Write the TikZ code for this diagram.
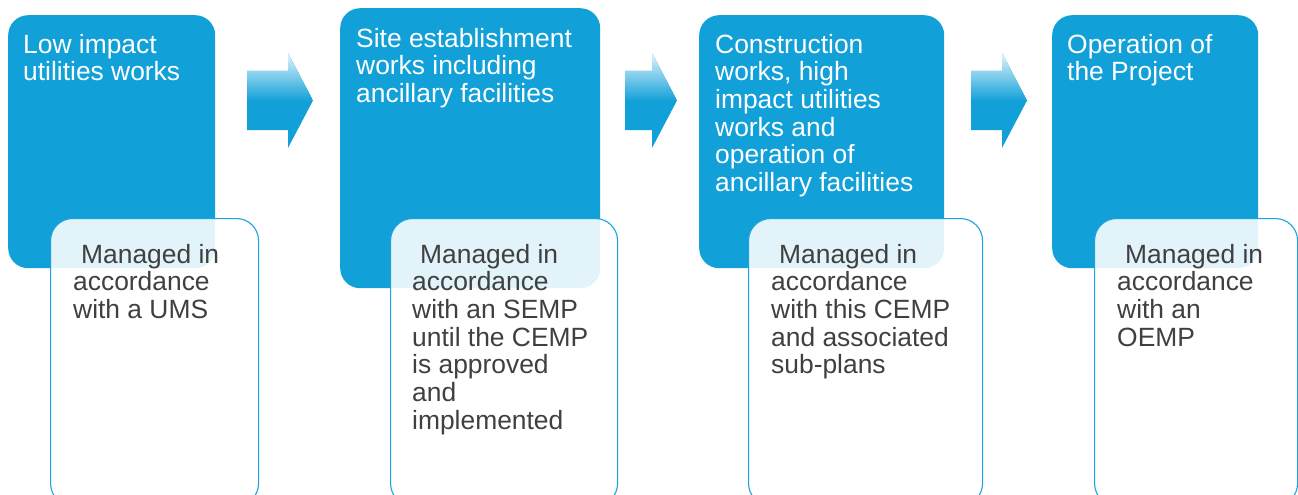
\documentclass[tikz,border=0pt]{standalone}
\usepackage{fontspec}
\setmainfont{Liberation Sans}
\definecolor{boxblue}{RGB}{18,160,216}
\definecolor{edgeblue}{RGB}{30,162,222}
\definecolor{paleblue}{RGB}{225,244,252}
\definecolor{txtgray}{RGB}{64,64,64}
\tikzset{
  stage/.style={rectangle, rounded corners=20pt, fill=boxblue, draw=none, anchor=north west, inner sep=0pt},
  mgmt/.style={rectangle, rounded corners=22pt, fill=white, fill opacity=0.88, draw=edgeblue, line width=1.1pt, anchor=north west, inner sep=0pt},
  title/.style={anchor=base west, align=left, inner sep=0pt, text=white, font=\fontsize{26.4}{27.7}\selectfont},
  note/.style={anchor=base west, align=left, inner sep=0pt, text=txtgray, font=\fontsize{26.4}{27.7}\selectfont},
  arrowtop/.style={top color=paleblue, bottom color=boxblue, draw=none}
}
\begin{document}
\begin{tikzpicture}[x=1pt,y=-1pt]
\useasboundingbox (0,0) rectangle (1298,495);
% stage boxes
\node[stage, minimum width=207pt, minimum height=253pt] (b1) at (8,15) {};
\node[stage, minimum width=260pt, minimum height=280pt] (b2) at (340,8) {};
\node[stage, minimum width=245pt, minimum height=253pt] (b3) at (699,15) {};
\node[stage, minimum width=206pt, minimum height=253pt] (b4) at (1052,15) {};
% block arrows
\foreach \x/\h/\t in {247/288/313, 625/652/677, 971/1002/1027}{
  \begin{scope}
    \clip (\x,71) -- (\h,71) -- (\h,53) -- (\t,100.5) -- (\h,148) -- (\h,130) -- (\x,130) -- cycle;
    \fill[boxblue] (\x,50) rectangle (\t,150);
    \shade[arrowtop] (\x,53) rectangle (\t,101);
  \end{scope}
}
% management boxes
\node[mgmt, minimum width=208pt, minimum height=287pt] (w1) at (50,218) {};
\node[mgmt, minimum width=227pt, minimum height=287pt] (w2) at (390,218) {};
\node[mgmt, minimum width=234pt, minimum height=287pt] (w3) at (748,218) {};
\node[mgmt, minimum width=203pt, minimum height=287pt] (w4) at (1094,218) {};
% titles (base anchor = baseline of last line)
\node[title] (t1) at (23,80.7) {Low impact\\utilities works};
\node[title] (t2) at (356,102.4) {Site establishment\\works including\\ancillary facilities};
\node[title] (t3) at (715,191.5) {Construction\\works, high\\impact utilities\\works and\\operation of\\ancillary facilities};
\node[title] (t4) at (1067,80.7) {Operation of\\the Project};
% notes
\node[note] (n1) at (73,318.4) {\hspace{8pt}Managed in\\accordance\\with a UMS};
\node[note] (n2) at (412,429.2) {\hspace{8pt}Managed in\\accordance\\with an SEMP\\until the CEMP\\is approved\\and\\implemented};
\node[note] (n3) at (771,373.8) {\hspace{8pt}Managed in\\accordance\\with this CEMP\\and associated\\sub-plans};
\node[note] (n4) at (1117,346.1) {\hspace{8pt}Managed in\\accordance\\with an\\OEMP};
\end{tikzpicture}
\end{document}
